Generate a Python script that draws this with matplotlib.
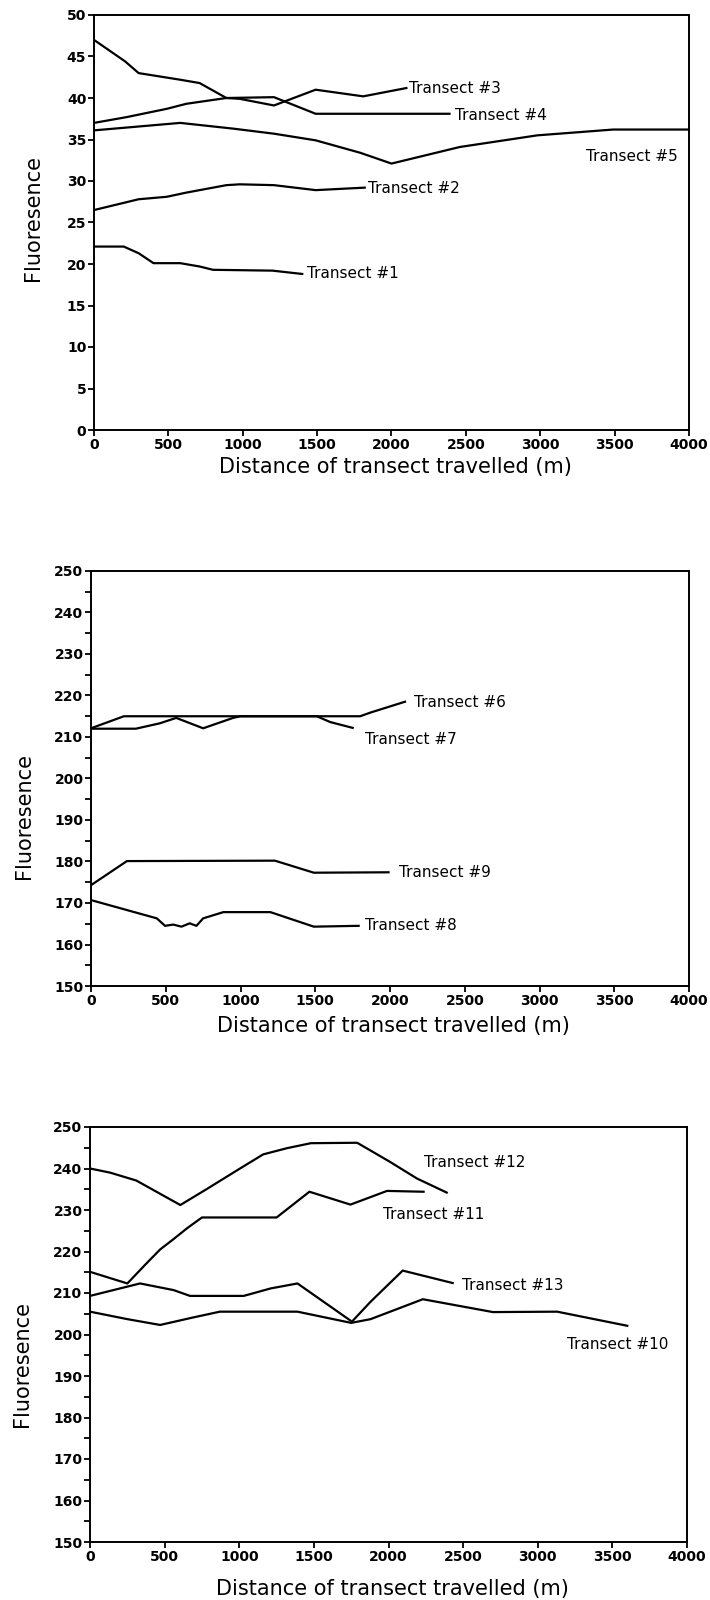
import matplotlib
matplotlib.use('Agg')
import matplotlib.pyplot as plt
from matplotlib.ticker import MultipleLocator

# DATOS ----------------------------------------------------------
# Panel 1: transectos 1-5
t1_x = [0, 200, 300, 400, 580, 710, 800, 1200, 1400]
t1_y = [22.1, 22.1, 21.3, 20.1, 20.1, 19.7, 19.3, 19.2, 18.8]
t2_x = [0, 300, 490, 620, 890, 980, 1210, 1490, 1820]
t2_y = [26.5, 27.8, 28.1, 28.6, 29.5, 29.6, 29.5, 28.9, 29.2]
t3_x = [0, 210, 300, 580, 710, 890, 980, 1210, 1490, 1810, 2100]
t3_y = [47.0, 44.4, 43.0, 42.2, 41.8, 40.0, 39.9, 39.1, 41.0, 40.2, 41.2]
t4_x = [0, 220, 490, 620, 890, 1210, 1490, 2390]
t4_y = [37.0, 37.7, 38.7, 39.3, 40.0, 40.1, 38.1, 38.1]
t5_x = [0, 580, 940, 1210, 1490, 1610, 1790, 2000, 2460, 2980, 3490, 4000]
t5_y = [36.1, 37.0, 36.3, 35.7, 34.9, 34.3, 33.4, 32.1, 34.1, 35.5, 36.2, 36.2]

# Panel 2: transectos 6-9
t6_x = [0, 220, 1800, 1870, 2100]
t6_y = [212.1, 215.0, 215.0, 215.9, 218.5]
t7_x = [0, 300, 460, 570, 750, 950, 1000, 1510, 1600, 1750]
t7_y = [212.0, 212.0, 213.3, 214.6, 212.1, 214.6, 215.0, 215.0, 213.6, 212.2]
t8_x = [0, 240, 440, 495, 550, 605, 660, 705, 750, 885, 1200, 1490, 1790]
t8_y = [170.7, 168.3, 166.3, 164.5, 164.8, 164.3, 165.1, 164.5, 166.3, 167.8, 167.8, 164.3, 164.5]
t9_x = [0, 240, 1230, 1490, 1990]
t9_y = [174.3, 180.1, 180.2, 177.3, 177.4]

# Panel 3: transectos 10-13
t10_x = [0, 250, 470, 690, 870, 1390, 1750, 1880, 2230, 2700, 3130, 3600]
t10_y = [205.5, 203.7, 202.3, 204.1, 205.5, 205.5, 202.8, 203.7, 208.5, 205.4, 205.5, 202.1]
t11_x = [0, 250, 380, 470, 560, 650, 750, 1250, 1470, 1745, 1990, 2235]
t11_y = [215.1, 212.3, 217.2, 220.5, 223.0, 225.6, 228.2, 228.2, 234.4, 231.3, 234.6, 234.4]
t12_x = [0, 135, 310, 425, 605, 780, 1005, 1160, 1320, 1480, 1790, 2010, 2190, 2390]
t12_y = [240.0, 239.0, 237.1, 234.8, 231.2, 235.0, 240.0, 243.4, 244.9, 246.1, 246.2, 241.6, 237.6, 234.2]
t13_x = [0, 335, 560, 670, 1030, 1210, 1390, 1755, 1880, 2095, 2430]
t13_y = [209.3, 212.3, 210.7, 209.3, 209.3, 211.1, 212.3, 203.1, 207.9, 215.4, 212.4]

# etiquetas: texto, x, y
etiq1 = [('Transect #1', 1430, 18.8), ('Transect #2', 1840, 29.1),
         ('Transect #3', 2120, 41.1), ('Transect #4', 2430, 37.9),
         ('Transect #5', 3310, 33.0)]
etiq2 = [('Transect #6', 2160, 218.3), ('Transect #7', 1830, 209.5),
         ('Transect #9', 2060, 177.3), ('Transect #8', 1830, 164.5)]
etiq3 = [('Transect #12', 2235, 241.4), ('Transect #11', 1963, 228.8),
         ('Transect #13', 2490, 211.7), ('Transect #10', 3194, 197.5)]

xlabel = 'Distance of transect travelled (m)'
ylabel = 'Fluoresence'

# GRAFICA --------------------------------------------------------
plt.rcParams['font.family'] = ['DejaVu Sans']
fig = plt.figure(figsize=(7.1, 16), dpi=100)

ax1 = fig.add_axes([0.1324, 0.73125, 0.838, 0.259375])
ax2 = fig.add_axes([0.1282, 0.38375, 0.8423, 0.259375])
ax3 = fig.add_axes([0.1268, 0.03625, 0.8408, 0.259375])

# eje, lineas, etiquetas, limites y, paso mayor, paso menor, pos. ylabel, pos. xlabel
paneles = [
    (ax1, [(t1_x, t1_y), (t2_x, t2_y), (t3_x, t3_y), (t4_x, t4_y), (t5_x, t5_y)],
     etiq1, (0, 50), 5, None, (-0.1025, 0.51), -0.088),
    (ax2, [(t6_x, t6_y), (t7_x, t7_y), (t8_x, t8_y), (t9_x, t9_y)],
     etiq2, (150, 250), 10, 5, (-0.112, 0.41), -0.097),
    (ax3, [(t10_x, t10_y), (t11_x, t11_y), (t12_x, t12_y), (t13_x, t13_y)],
     etiq3, (150, 250), 10, 5, (-0.114, 0.43), -0.114),
]

for ax, lineas, etiq, ylim, paso, menor, ypos, xpos in paneles:
    for xs, ys in lineas:
        ax.plot(xs, ys, color='black', linewidth=1.6)
    for texto, tx, ty in etiq:
        ax.text(tx, ty, texto, fontsize=11, ha='left', va='center')
    ax.set_xlim(0, 4000)
    ax.set_ylim(*ylim)
    ax.xaxis.set_major_locator(MultipleLocator(500))
    ax.yaxis.set_major_locator(MultipleLocator(paso))
    if menor:
        ax.yaxis.set_minor_locator(MultipleLocator(menor))
    ax.tick_params(axis='both', which='major', direction='out', length=4,
                   width=1.3, pad=1.5, labelsize=10)
    ax.tick_params(axis='y', which='minor', direction='out', length=4, width=1.3)
    for lbl in ax.get_xticklabels() + ax.get_yticklabels():
        lbl.set_fontweight('bold')
    for sp in ax.spines.values():
        sp.set_linewidth(1.4)
    ax.set_xlabel(xlabel, fontsize=15)
    ax.xaxis.label.set_verticalalignment('center')
    ax.xaxis.set_label_coords(0.506, xpos)
    ax.set_ylabel(ylabel, fontsize=15)
    ax.yaxis.label.set_verticalalignment('center')
    ax.yaxis.set_label_coords(*ypos)

fig.savefig('out.png', dpi=100)
